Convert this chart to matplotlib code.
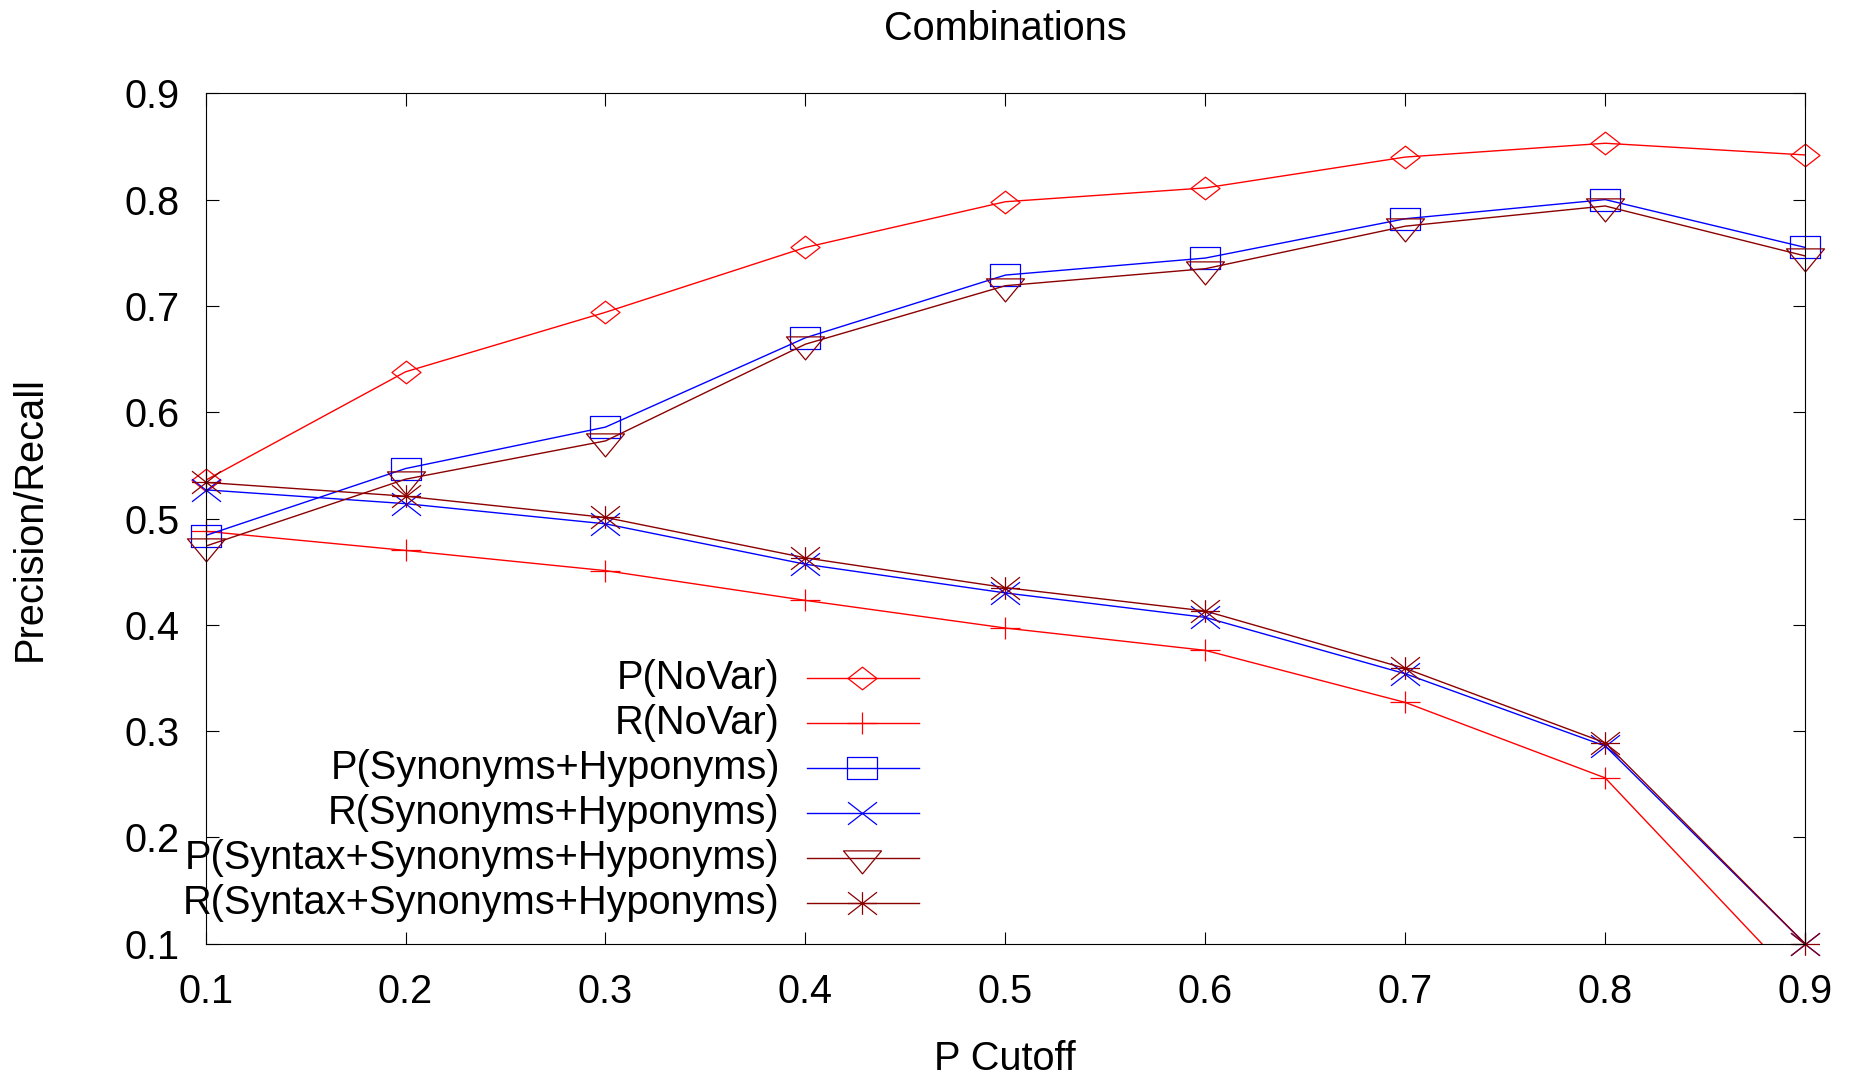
import matplotlib
matplotlib.use("Agg")
import matplotlib.pyplot as plt
import numpy as np
from matplotlib.path import Path

# P cutoff values
cutoff = [0.1, 0.2, 0.3, 0.4, 0.5, 0.6, 0.7, 0.8, 0.9]

# precision / recall per setting
p_novar = [0.536, 0.638, 0.694, 0.755, 0.798, 0.811, 0.840, 0.853, 0.842]
r_novar = [0.488, 0.470, 0.451, 0.423, 0.397, 0.376, 0.327, 0.256, 0.057]
p_syn_hyp = [0.484, 0.547, 0.586, 0.670, 0.729, 0.745, 0.782, 0.800, 0.755]
r_syn_hyp = [0.527, 0.514, 0.495, 0.457, 0.430, 0.407, 0.354, 0.286, 0.100]
p_syntax = [0.474, 0.537, 0.573, 0.664, 0.719, 0.735, 0.775, 0.794, 0.747]
r_syntax = [0.534, 0.521, 0.501, 0.463, 0.435, 0.413, 0.359, 0.289, 0.100]

labels = ['P(NoVar)', 'R(NoVar)', 'P(Synonyms+Hyponyms)', 'R(Synonyms+Hyponyms)',
          'P(Syntax+Synonyms+Hyponyms)', 'R(Syntax+Synonyms+Hyponyms)']

RED = '#ff0000'
BLUE = '#0000ff'
BROWN = '#8b0000'

# gnuplot-ish point shapes (a bit wider than tall)
h = 0.78
M, L, C = Path.MOVETO, Path.LINETO, Path.CLOSEPOLY
diamond = Path([(-1, 0), (0, h), (1, 0), (0, -h), (-1, 0)], [M, L, L, L, C])
plus = Path([(-1, 0), (1, 0), (0, -h), (0, h)], [M, L, M, L])
square = Path([(-1, -h), (1, -h), (1, h), (-1, h), (-1, -h)], [M, L, L, L, C])
cross = Path([(-1, -h), (1, h), (-1, h), (1, -h)], [M, L, M, L])
tri_down = Path([(-1, 0.4), (1, 0.4), (0, -0.81), (-1, 0.4)], [M, L, L, C])
star = Path([(-1, 0), (1, 0), (0, -h), (0, h), (-1, -h), (1, h), (-1, h), (1, -h)],
            [M, L, M, L, M, L, M, L])

series = [
    (p_novar, RED, diamond, 20.9),
    (r_novar, RED, plus, 20.9),
    (p_syn_hyp, BLUE, square, 20.9),
    (r_syn_hyp, BLUE, cross, 20.9),
    (p_syntax, BROWN, tri_down, 27.4),
    (r_syntax, BROWN, star, 20.9),
]

plt.rcParams['font.family'] = ['Liberation Sans', 'DejaVu Sans']
plt.rcParams['font.size'] = 28.6

fig = plt.figure(figsize=(18.52, 10.76), dpi=100)
ax = fig.add_axes([0.111, 0.1229, 0.8637, 0.7904])

x = np.array(cutoff)
for vals, col, mk, ms in series:
    y = np.array(vals)
    ax.plot(x, y, color=col, lw=1.0)
    inside = (y >= 0.1) & (y <= 0.9)
    ax.plot(x[inside], y[inside], ls='none', marker=mk, ms=ms, mfc='none',
            mec=col, mew=0.9, clip_on=False)

ax.set_xlim(0.1, 0.9)
ax.set_ylim(0.1, 0.9)
ax.set_xticks(cutoff)
ax.set_xticklabels([f'{v:.1f}' for v in cutoff])
ax.set_yticks(cutoff)
ax.set_yticklabels([f'{v:.1f}' for v in cutoff])
ax.tick_params(direction='in', length=9, width=0.8, top=True, right=True)
ax.tick_params(axis='x', pad=21)
ax.tick_params(axis='y', pad=19)
for sp in ax.spines.values():
    sp.set_linewidth(0.8)

ax.set_xlabel('P Cutoff')
ax.xaxis.set_label_coords(0.5, -0.135)
ax.xaxis.label.set_va('center')
ax.set_ylabel('Precision/Recall')
ax.yaxis.set_label_coords(-0.1097, 0.5)
ax.yaxis.label.set_va('center')
ax.text(0.5, 1.076, 'Combinations', transform=ax.transAxes, ha='center', va='center')

# key drawn like gnuplot: right-aligned text, sample line + point on the right
rows = [0.3124, 0.2595, 0.2066, 0.1537, 0.1014, 0.0485]
for (vals, col, mk, ms), lab, ry in zip(series, labels, rows):
    ax.text(0.359, ry, lab, transform=ax.transAxes, ha='right', va='center')
    ax.plot([0.376, 0.446], [ry, ry], color=col, lw=1.0, transform=ax.transAxes,
            clip_on=False)
    ax.plot([0.4106], [ry], ls='none', marker=mk, ms=ms, mfc='none', mec=col,
            mew=0.9, transform=ax.transAxes, clip_on=False)

fig.savefig('out.png', dpi=100)
